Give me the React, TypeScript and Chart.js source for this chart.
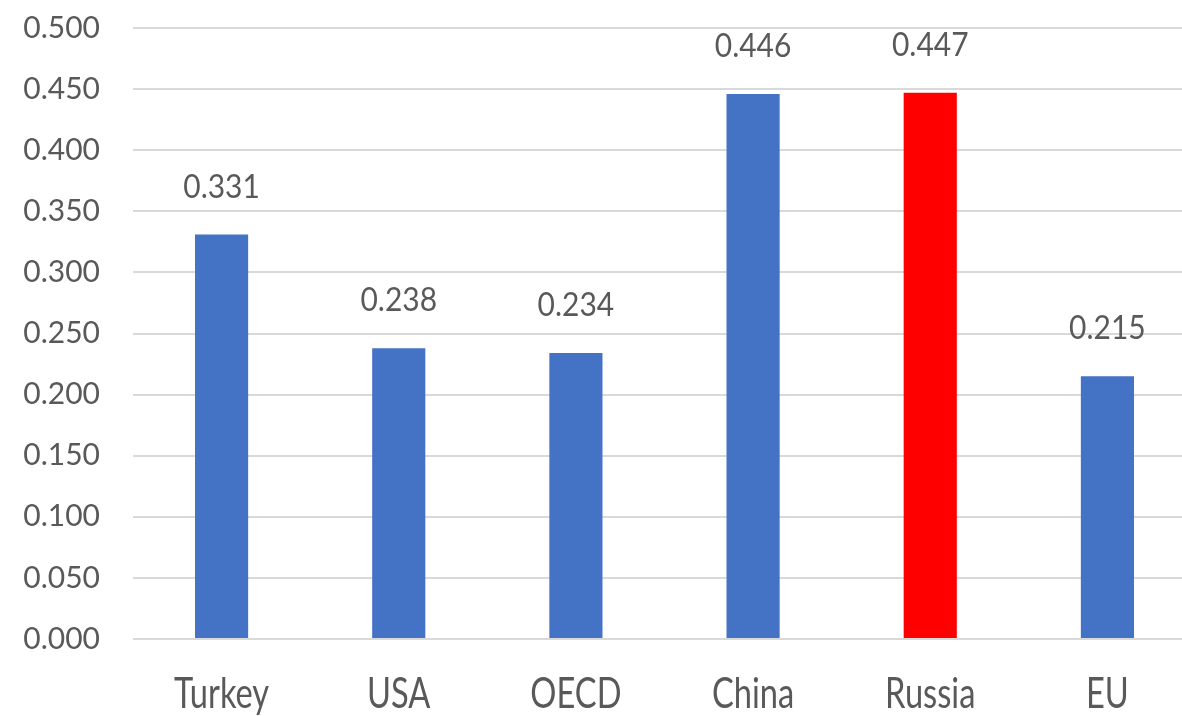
import React, { useEffect, useRef } from "react";
import { Chart, registerables } from "chart.js";

Chart.register(...registerables);

const categories = ["Turkey", "USA", "OECD", "China", "Russia", "EU"];
const values = [0.331, 0.238, 0.234, 0.446, 0.447, 0.215];
const barColors = ["#4472C4", "#4472C4", "#4472C4", "#4472C4", "#FF0000", "#4472C4"];
const yMin = 0;
const yMax = 0.5;
const yStep = 0.05;

const FONT = "Lato, 'Open Sans', sans-serif";
const TEXT_COLOR = "#595959";

// Value labels above each bar, slightly tall lettering
const valueLabels = {
  id: "valueLabels",
  afterDatasetsDraw(chart: any) {
    const { ctx } = chart;
    const meta = chart.getDatasetMeta(0);
    ctx.save();
    ctx.font = `30px ${FONT}`;
    ctx.fillStyle = TEXT_COLOR;
    ctx.textAlign = "center";
    ctx.textBaseline = "alphabetic";
    meta.data.forEach((bar: any, i: number) => {
      ctx.save();
      ctx.translate(bar.x, bar.y - 37);
      ctx.scale(1, 1.12);
      ctx.fillText(values[i].toFixed(3), 0, 0);
      ctx.restore();
    });
    ctx.restore();
  },
};

// Category names under the axis, drawn in a tall narrow style
const categoryLabels = {
  id: "categoryLabels",
  afterDraw(chart: any) {
    const { ctx, scales } = chart;
    const x = scales.x;
    const baseY = chart.chartArea.bottom + 69;
    ctx.save();
    ctx.font = `32px ${FONT}`;
    ctx.fillStyle = TEXT_COLOR;
    ctx.textAlign = "center";
    ctx.textBaseline = "alphabetic";
    categories.forEach((label, i) => {
      ctx.save();
      ctx.translate(x.getPixelForValue(i), baseY);
      ctx.scale(1.02, 1.3);
      ctx.fillText(label, 0, 0);
      ctx.restore();
    });
    ctx.restore();
  },
};

export default function App() {
  const ref = useRef<HTMLCanvasElement | null>(null);

  useEffect(() => {
    document.body.style.overflow = "hidden";
    const canvas = ref.current;
    if (!canvas) return;
    const chart = new Chart(canvas, {
      type: "bar",
      data: {
        labels: categories,
        datasets: [
          {
            data: values,
            backgroundColor: barColors,
            borderWidth: 0,
            categoryPercentage: 1,
            barPercentage: 0.3,
          },
        ],
      },
      options: {
        animation: false,
        responsive: false,
        maintainAspectRatio: false,
        layout: { padding: { top: 28, left: 0, right: 0, bottom: 0 } },
        plugins: {
          legend: { display: false },
          tooltip: { enabled: false },
        },
        scales: {
          x: {
            grid: { display: false, drawTicks: false },
            border: { display: false },
            ticks: { display: false },
            afterFit(scale: any) {
              scale.height = 77;
            },
          },
          y: {
            min: yMin,
            max: yMax,
            grid: { color: "#D9D9D9", lineWidth: 2, drawTicks: false },
            border: { display: false },
            ticks: {
              stepSize: yStep,
              color: TEXT_COLOR,
              font: { family: FONT, size: 30 },
              padding: 33,
              callback: (v: any) => Number(v).toFixed(3),
            },
            afterFit(scale: any) {
              scale.width = 133;
              scale.paddingTop = 0;
              scale.paddingBottom = 0;
            },
          },
        },
      },
      plugins: [valueLabels, categoryLabels],
    });
    return () => chart.destroy();
  }, []);

  return (
    <div style={{ position: "fixed", left: 0, top: 0, width: 1196, height: 716, background: "#fff" }}>
      <canvas ref={ref} width={1196} height={716} style={{ display: "block" }} />
    </div>
  );
}
